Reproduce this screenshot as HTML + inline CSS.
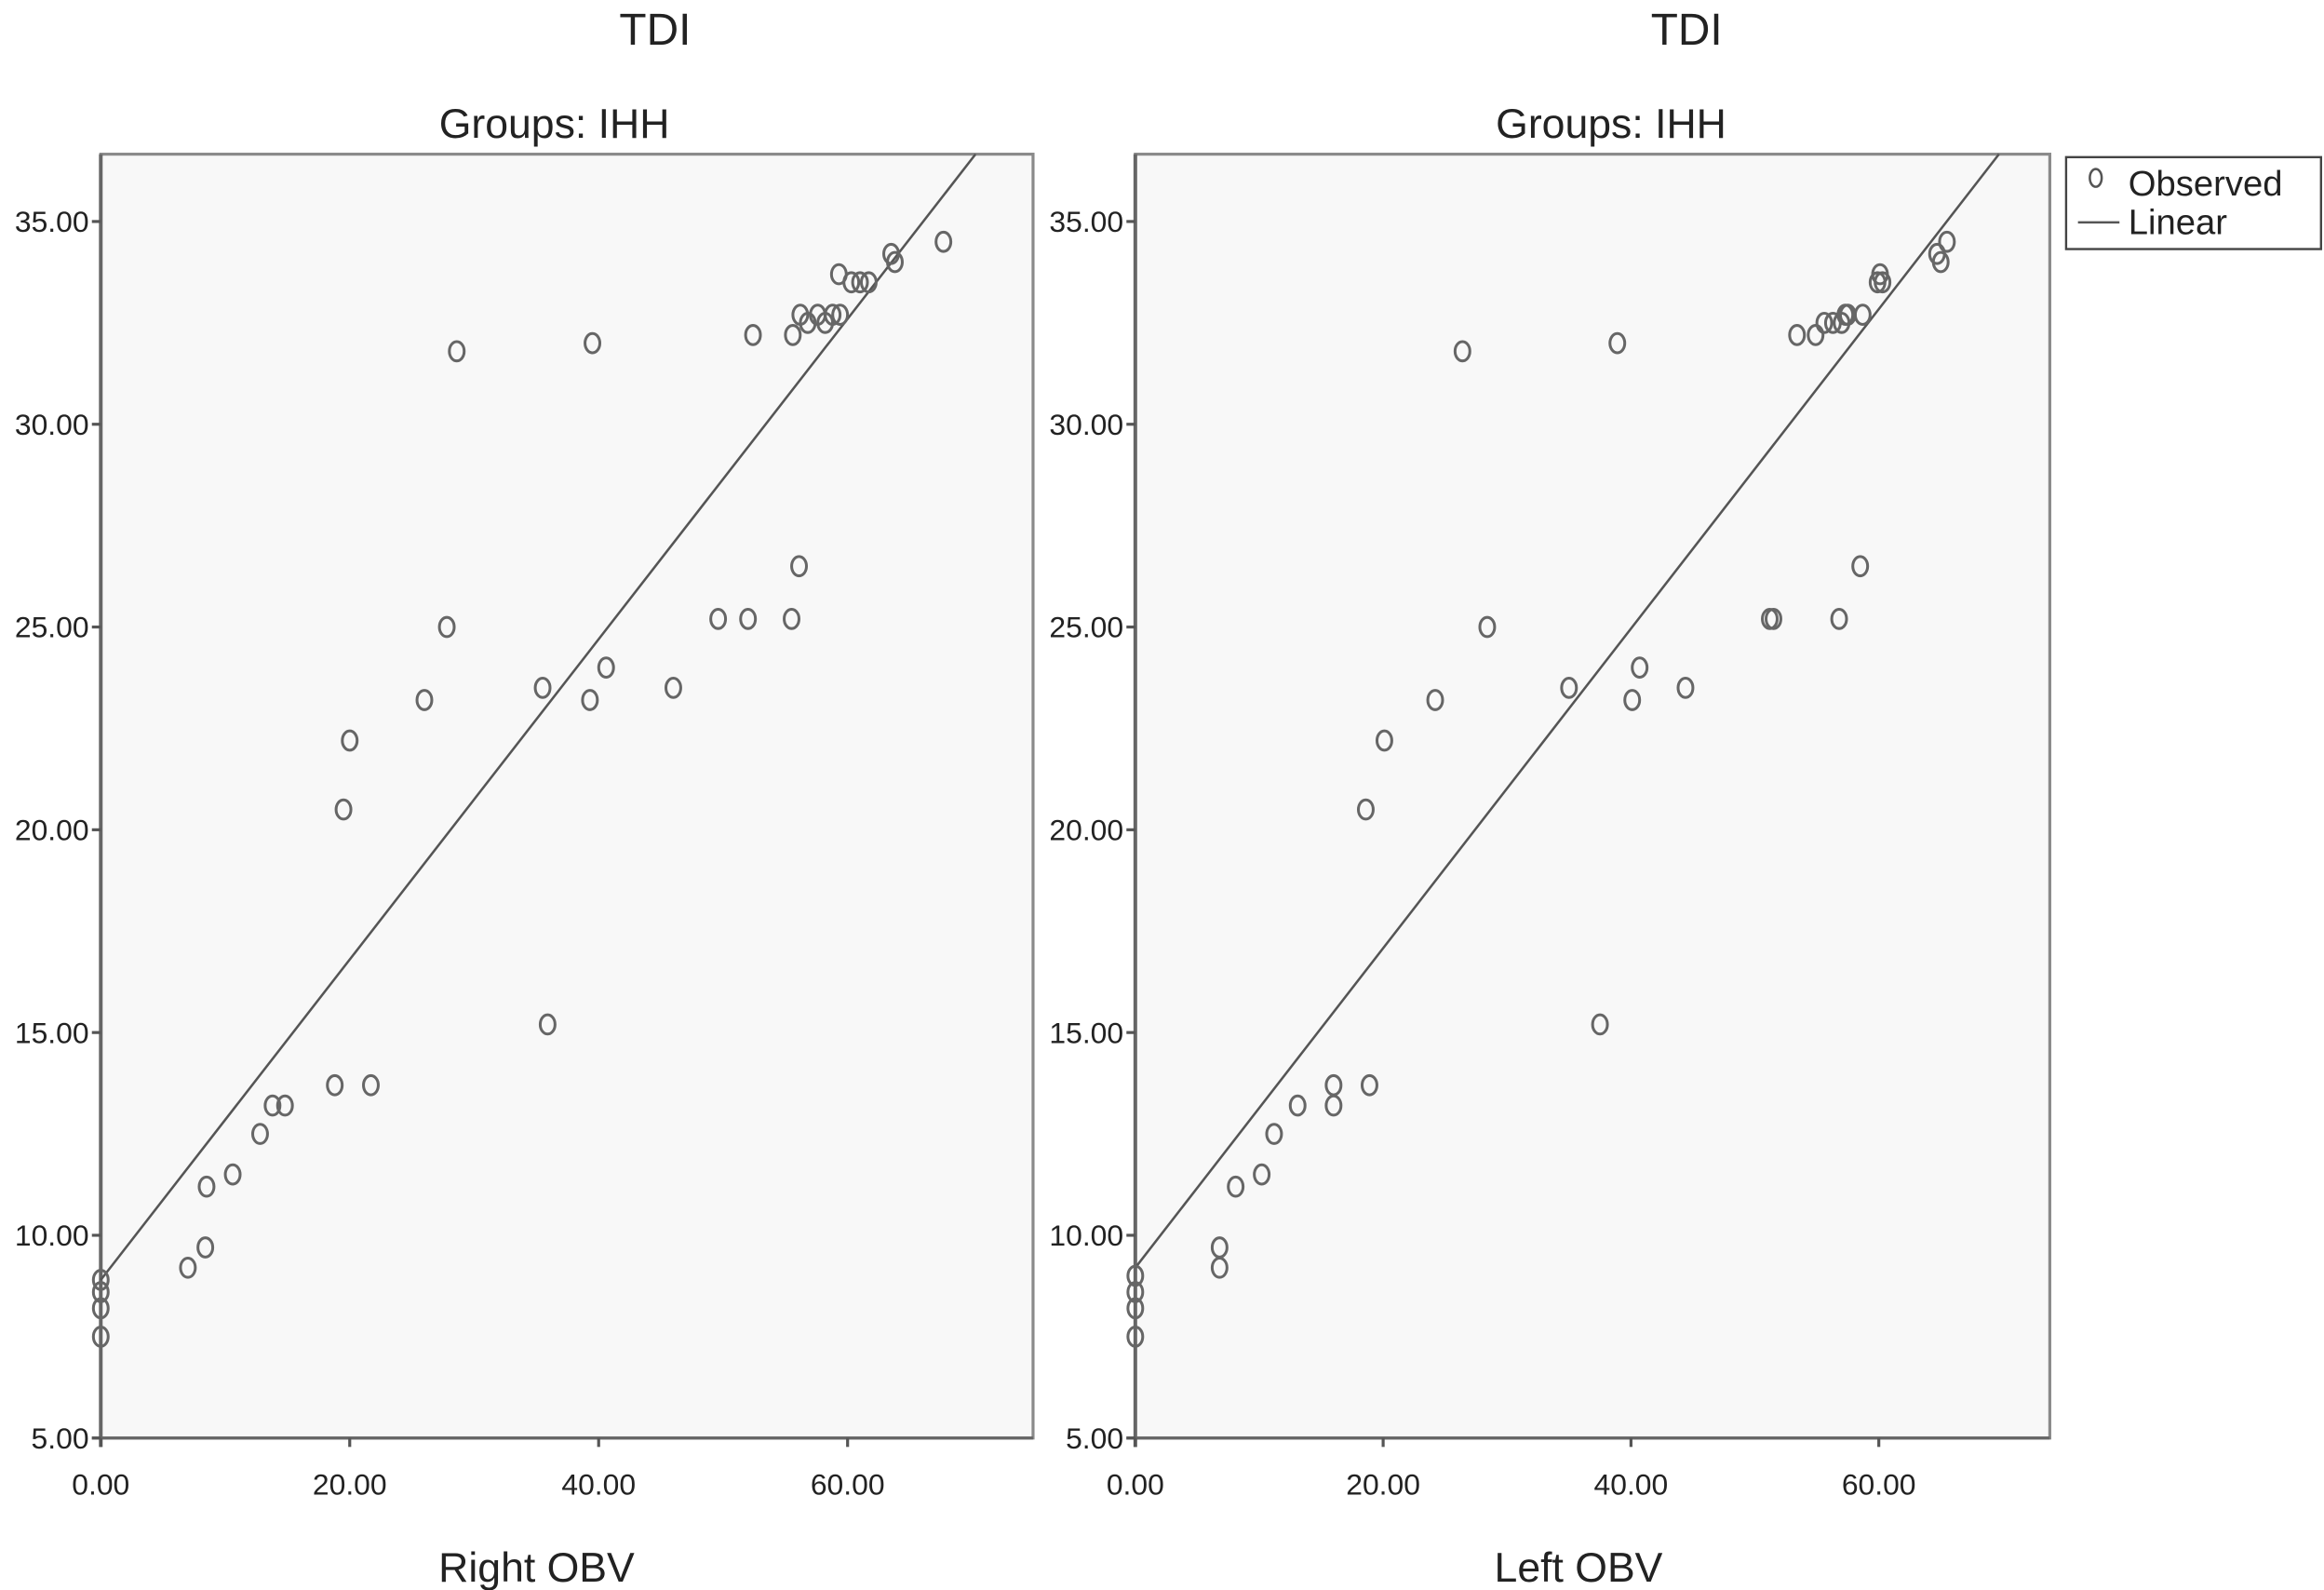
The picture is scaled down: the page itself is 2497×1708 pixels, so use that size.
<!DOCTYPE html>
<html><head><meta charset="utf-8"><style>
html,body{margin:0;padding:0;background:#fff;}
svg{display:block;font-family:"Liberation Sans",sans-serif;}
</style></head><body>
<svg id="chart" width="2497" height="1708" viewBox="0 0 1568 1072.5" preserveAspectRatio="none" xmlns="http://www.w3.org/2000/svg">
<g id="legend">
<rect x="1394" y="106" width="172" height="62" fill="#fff" stroke="#444" stroke-width="1.5"/>
<ellipse cx="1414" cy="120" rx="4" ry="6" fill="none" stroke="#555" stroke-width="1.6"/>
<text x="1436" y="132" font-size="24" fill="#222">Observed</text>
<line x1="1402" y1="150" x2="1430" y2="150" stroke="#555" stroke-width="1.6"/>
<text x="1436" y="158" font-size="24" fill="#222">Linear</text>
</g>
</svg>
<script>
const leftX=[0,0,0,0,7,8.4,8.5,10.6,12.8,13.8,14.8,18.8,21.7,19.5,20,26,27.8,28.6,35.5,35.9,39.3,40.6,39.5,46,49.6,52,55.5,56.1,52.4,55.6,56.2,56.8,57.6,58.2,58.8,59.4,59.3,60.3,61,61.7,63.5,63.8,67.7];
const leftY=[7.5,8.2,8.6,8.9,9.2,9.7,11.2,11.5,12.5,13.2,13.2,13.7,13.7,20.5,22.2,23.2,25,31.8,23.5,15.2,23.2,24,32,23.5,25.2,25.2,25.2,26.5,32.2,32.2,32.7,32.5,32.7,32.5,32.7,32.7,33.7,33.5,33.5,33.5,34.2,34,34.5];
const rightX=[0,0,0,0,6.8,6.8,8.1,10.2,11.2,13.1,16,16,18.9,18.6,20.1,24.2,26.4,28.4,35,37.5,38.9,40.1,40.7,44.4,51.2,51.5,56.8,58.5,53.4,54.9,55.6,56.3,57,57.3,57.5,58.7,59.9,60.1,60.3,64.7,65,65.5];
const rightY=[7.5,8.2,8.6,9,9.2,9.7,11.2,11.5,12.5,13.2,13.2,13.7,13.7,20.5,22.2,23.2,31.8,25,23.5,15.2,32,23.2,24,23.5,25.2,25.2,25.2,26.5,32.2,32.2,32.5,32.5,32.5,32.7,32.7,32.7,33.5,33.7,33.5,34.2,34,34.5];
const leftFit=[8.9,0.395];
const rightFit=[9.2,0.394];
const yTicks=[5,10,15,20,25,30,35];
const xTicks=[0,20,40,60];
const yTickLabels=["5.00","10.00","15.00","20.00","25.00","30.00","35.00"];
const xTickLabels=["0.00","20.00","40.00","60.00"];

const NS="http://www.w3.org/2000/svg";
const svg=document.getElementById('chart');
function mk(tag,attrs,parent){const e=document.createElementNS(NS,tag);for(const k in attrs)e.setAttribute(k,attrs[k]);(parent||svg).appendChild(e);return e;}

function panel(p){
  const g=mk('g',{});
  
  
  const L=p.left,R=p.right,T=104,B=970;
  const xs=v=>L+(v-0)*(R-L)/p.xmax;
  const ys=v=>B-(v-5)*(B-T)/(36.66-5);
  const bg=mk('rect',{x:L,y:T,width:R-L,height:B-T,fill:'#f8f8f8',stroke:'#8a8a8a','stroke-width':2},g);
  
  
  const ax=mk('line',{x1:L,y1:T,x2:L,y2:B+6,stroke:'#666','stroke-width':2.5},g);
  
  
  const axb=mk('line',{x1:L-6,y1:B,x2:R,y2:B,stroke:'#666','stroke-width':2},g);
  
  
  yTicks.forEach((v,i)=>{
    const tl=mk('line',{x1:L-6,y1:ys(v),x2:L,y2:ys(v),stroke:'#555','stroke-width':2},g);
    
    
    const t=mk('text',{x:L-8,y:ys(v)+7,'font-size':20,'text-anchor':'end',fill:'#222'},g);
    
    
    t.textContent=yTickLabels[i];
  });
  xTicks.forEach((v,i)=>{
    const tl=mk('line',{x1:xs(v),y1:B,x2:xs(v),y2:B+6,stroke:'#555','stroke-width':2},g);
    
    
    const t=mk('text',{x:xs(v),y:B+38,'font-size':20,'text-anchor':'middle',fill:'#222'},g);
    
    
    t.textContent=xTickLabels[i];
  });
  const xEnd=Math.min(p.xmax,(36.66-p.fit[0])/p.fit[1]);
  const fl=mk('line',{x1:xs(0),y1:ys(p.fit[0]),x2:xs(xEnd),y2:ys(p.fit[0]+p.fit[1]*xEnd),stroke:'#555','stroke-width':1.6},g);
  
  
  p.X.forEach((x,i)=>{
    const c=mk('ellipse',{cx:xs(x),cy:ys(p.Y[i]),rx:5,ry:6.5,fill:'none',stroke:'#666','stroke-width':1.9},g);
    
    
  });
  const t1=mk('text',{x:p.titleX,y:30,'font-size':30,'text-anchor':'middle',fill:'#222'},g);
  
  
  t1.textContent='TDI';
  const t2=mk('text',{x:p.subX,y:93,'font-size':28,'text-anchor':'middle',fill:'#222'},g);
  
  
  t2.textContent='Groups: IHH';
  const t3=mk('text',{x:p.axX,y:1067,'font-size':28,'text-anchor':'middle',fill:'#222'},g);
  
  
  t3.textContent=p.xtitle;
}
panel({name:'right-obv-panel',left:68,right:697,xmax:74.9,X:leftX,Y:leftY,fit:leftFit,titleX:442,subX:374,axX:362,xtitle:'Right OBV'});
panel({name:'left-obv-panel',left:766,right:1383,xmax:73.8,X:rightX,Y:rightY,fit:rightFit,titleX:1138,subX:1087,axX:1065,xtitle:'Left OBV'});
</script>
</body></html>
